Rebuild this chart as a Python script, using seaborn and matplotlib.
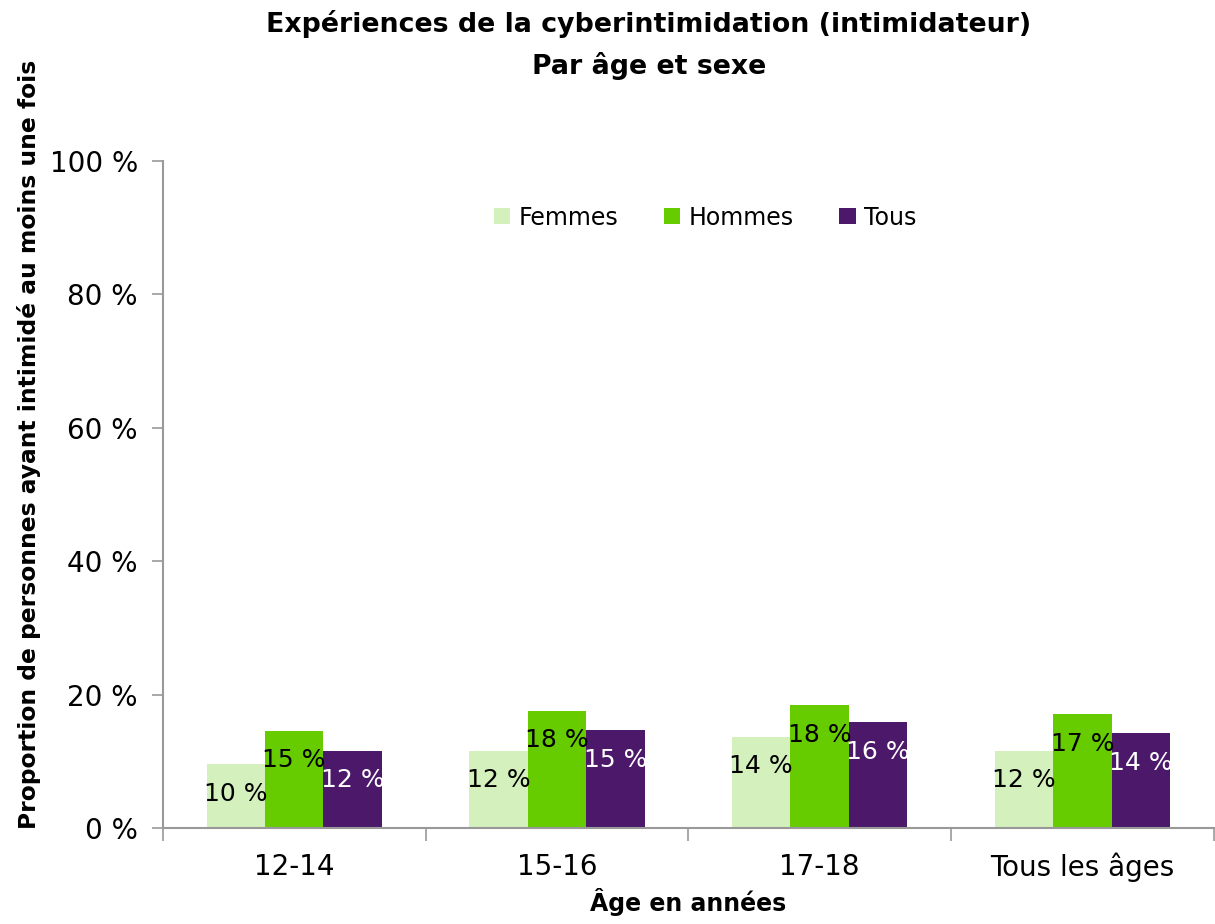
import numpy as np
import pandas as pd
import matplotlib
matplotlib.use("Agg")
import matplotlib.pyplot as plt
import seaborn as sns

# Data
categories = ["12-14", "15-16", "17-18", "Tous les âges"]
femmes = [9.6, 11.6, 13.7, 11.6]
hommes = [14.6, 17.6, 18.4, 17.1]
tous = [11.6, 14.7, 15.9, 14.2]
series = ["Femmes", "Hommes", "Tous"]
colors = ["#D4F0BC", "#66CC00", "#4B186A"]
label_colors = ["black", "black", "white"]
y_ticks = [0, 20, 40, 60, 80, 100]

df = pd.DataFrame({
    "age": categories * 3,
    "serie": np.repeat(series, len(categories)),
    "valeur": femmes + hommes + tous,
})

sns.set_style("white")
plt.rcParams["font.family"] = ["DejaVu Sans"]
plt.rcParams["text.color"] = "black"
plt.rcParams["xtick.color"] = "black"
plt.rcParams["ytick.color"] = "black"
plt.rcParams["axes.labelcolor"] = "black"

fig = plt.figure(figsize=(12.15, 9.24), dpi=100, facecolor="w")
ax = fig.add_axes([0.134, 0.1039, 0.865, 0.7219])

sns.barplot(data=df, x="age", y="valeur", hue="serie", order=categories,
            hue_order=series, palette=colors, width=0.667, gap=0,
            saturation=1, linewidth=0, ax=ax, errorbar=None, legend=True)

for cont, lc in zip(ax.containers, label_colors):
    ax.bar_label(cont, labels=[f"{round(b.get_height())} %" for b in cont],
                 padding=-30, color=lc, fontsize=18)

ax.set_ylim(0, 100)
ax.set_xlim(-0.5, len(categories) - 0.5)
ax.set_yticks(y_ticks)
ax.set_yticklabels([f"{t} %" for t in y_ticks], fontsize=20)
ax.tick_params(axis="y", left=True, length=8, color="#999999", width=1.2,
               pad=10, labelcolor="black")
ax.set_xticks(range(len(categories)))
ax.set_xticklabels(categories, fontsize=20)
ax.tick_params(axis="x", which="major", bottom=False, length=0, pad=18)
ax.set_xticks(np.arange(-0.5, len(categories)), minor=True)
ax.tick_params(axis="x", which="minor", bottom=True, length=9,
               color="#999999", width=1.2)

for s in ["top", "right"]:
    ax.spines[s].set_visible(False)
for s in ["left", "bottom"]:
    ax.spines[s].set_color("#999999")
    ax.spines[s].set_linewidth(1.5)

ax.set_xlabel("Âge en années", fontsize=17, fontweight="bold")
ax.xaxis.set_label_coords(0.5, -0.09)
ax.set_ylabel("Proportion de personnes ayant intimidé au moins une fois",
              fontsize=16.8, fontweight="bold")
ax.yaxis.set_label_coords(-0.116, 0.575)

leg = ax.legend(loc="center", bbox_to_anchor=(0.516, 0.915), ncol=3, frameon=False,
                fontsize=17, handlelength=0.68, handleheight=0.68,
                handletextpad=0.34, columnspacing=1.95)

fig.text(0.534, 0.974, "Expériences de la cyberintimidation (intimidateur)",
         ha="center", va="center", fontsize=19.3, fontweight="bold")
fig.text(0.534, 0.929, "Par âge et sexe", ha="center", va="center",
         fontsize=19.3, fontweight="bold")

fig.savefig("out.png", dpi=100, facecolor="w")
